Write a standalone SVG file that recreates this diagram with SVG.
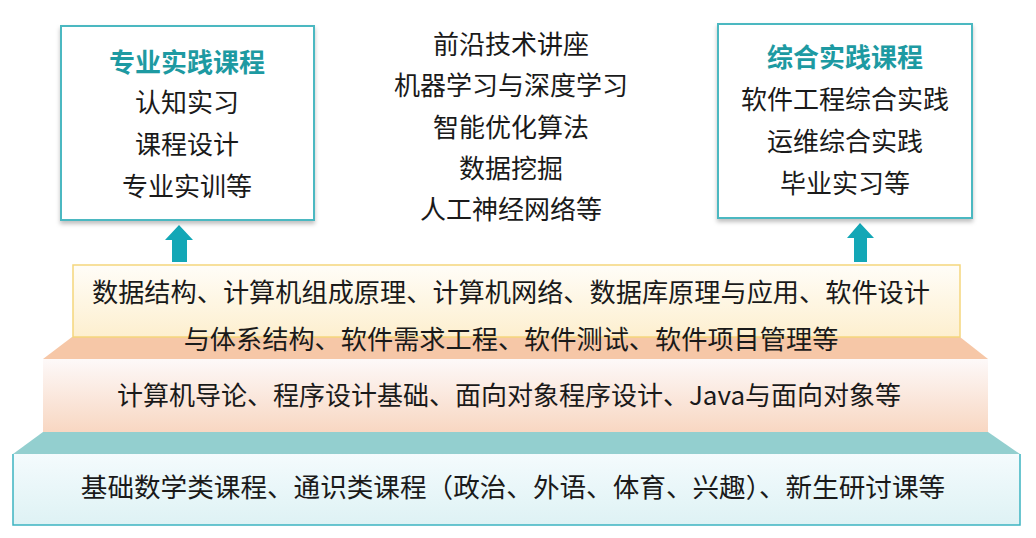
<svg xmlns="http://www.w3.org/2000/svg" width="1036" height="538" viewBox="0 0 1036 538">
<style>
text{font-family:"Noto Sans CJK SC","Noto Sans",sans-serif;font-size:26px;fill:#1a1a1a;text-anchor:middle}
#layer1 text{font-size:26.2px}
#layer3 text{font-size:26.6px}
.title{font-weight:bold;fill:#1d9aa2}
.box{fill:#ffffff;stroke:#4cb8c1;stroke-width:2}
.arrow{fill:#13a7b6}
</style>
<defs>
<filter id="sh" x="-10%" y="-10%" width="120%" height="130%">
<feDropShadow dx="0" dy="3" stdDeviation="2" flood-color="#000" flood-opacity="0.25"/>
</filter>
<linearGradient id="g1" x1="0" y1="0" x2="0" y2="1"><stop offset="0" stop-color="#fffdf8"/><stop offset="1" stop-color="#fdefcf"/></linearGradient>
<linearGradient id="g2" x1="0" y1="0" x2="0" y2="1"><stop offset="0" stop-color="#fdf9f9"/><stop offset="1" stop-color="#f8d7c2"/></linearGradient>
<linearGradient id="g3" x1="0" y1="0" x2="0" y2="1"><stop offset="0" stop-color="#f4fbfd"/><stop offset="1" stop-color="#def2f4"/></linearGradient>
</defs>
<rect width="1036" height="538" fill="#ffffff"/>

<g id="layer3">
<polygon points="43,432 988,432 1020,454 13,454" fill="#93cfcf"/>
<rect x="13" y="454" width="1007" height="71" fill="url(#g3)"/>
<polyline points="13,454 13,525 1020,525 1020,454" fill="none" stroke="#3cb4c1" stroke-width="1.5"/>
<text x="513" y="497">基础数学类课程、通识类课程（政治、外语、体育、兴趣）、新生研讨课等</text>
</g>

<g id="layer2">
<polygon points="72,337 960,337 988,359 43,359" fill="#f6c7a7"/>
<rect x="43" y="359" width="945" height="73" fill="url(#g2)"/>
<text x="509" y="405">计算机导论、程序设计基础、面向对象程序设计、Java与面向对象等</text>
</g>

<g id="layer1">
<rect x="73" y="265" width="887" height="72" fill="url(#g1)" stroke="#f5d67c" stroke-width="1.5"/>
<text x="511" y="302">数据结构、计算机组成原理、计算机网络、数据库原理与应用、软件设计</text>
<text x="511" y="349">与体系结构、软件需求工程、软件测试、软件项目管理等</text>
</g>

<g id="connectors">
<polygon class="arrow" points="179,225 193,240 187,240 187,262 172,262 172,240 165,240"/>
<polygon class="arrow" points="860,223 874,238 867,238 867,262 854,262 854,238 847,238"/>
</g>

<g id="practice">
<rect class="box" x="61" y="26" width="253" height="194" filter="url(#sh)"/>
<text class="title" x="187" y="72">专业实践课程</text>
<text x="187" y="112">认知实习</text>
<text x="187" y="154">课程设计</text>
<text x="187" y="196">专业实训等</text>
</g>

<g id="frontier">
<text x="511" y="54">前沿技术讲座</text>
<text x="511" y="95">机器学习与深度学习</text>
<text x="511" y="137">智能优化算法</text>
<text x="511" y="178">数据挖掘</text>
<text x="511" y="219">人工神经网络等</text>
</g>

<g id="comprehensive">
<rect class="box" x="718" y="24" width="254" height="194" filter="url(#sh)"/>
<text class="title" x="845" y="67">综合实践课程</text>
<text x="845" y="109">软件工程综合实践</text>
<text x="845" y="151">运维综合实践</text>
<text x="845" y="193">毕业实习等</text>
</g>
</svg>
